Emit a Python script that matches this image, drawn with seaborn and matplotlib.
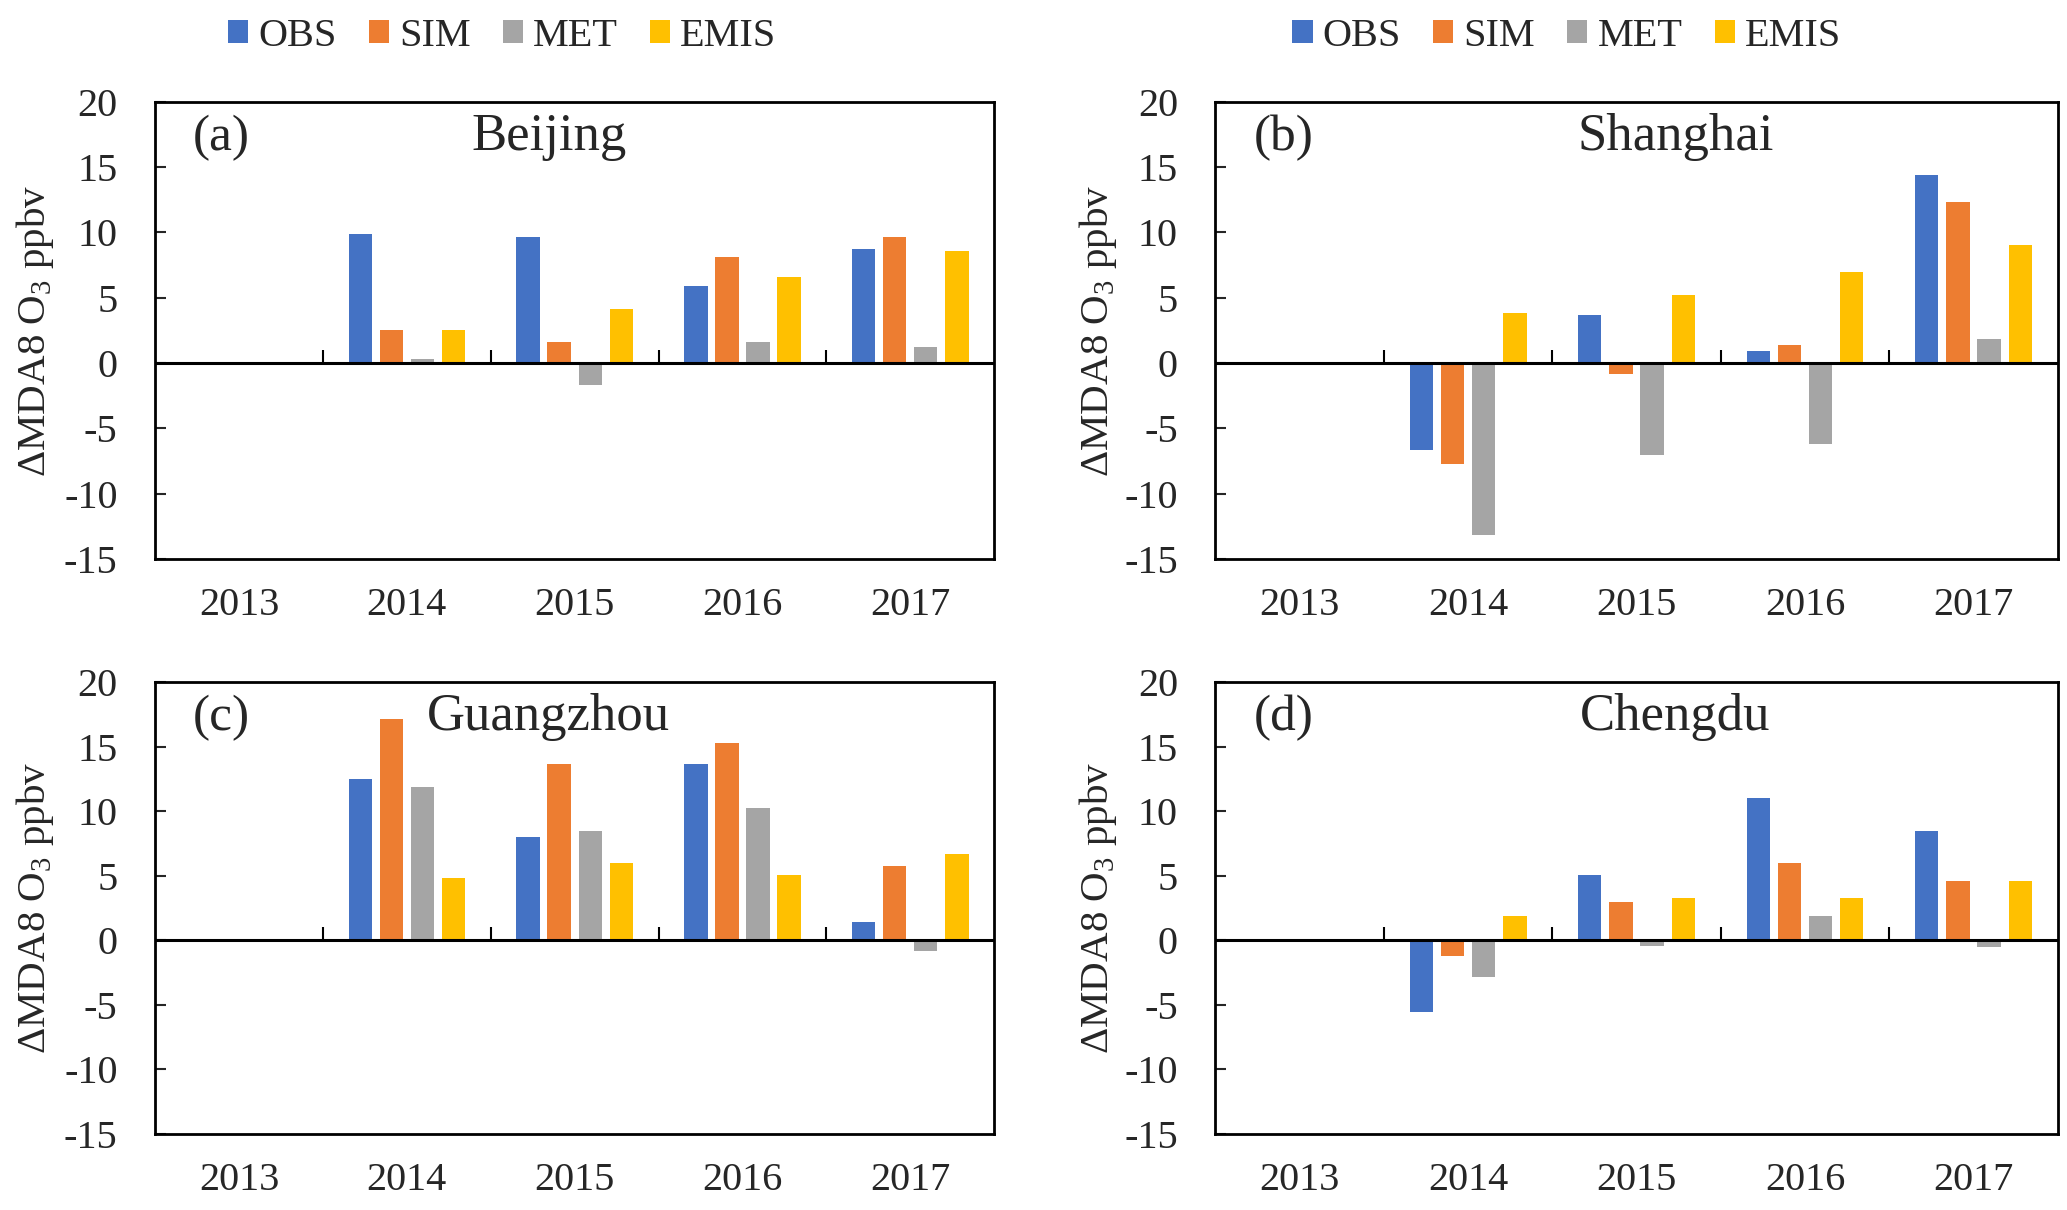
import numpy as np
import pandas as pd
import matplotlib
matplotlib.use('Agg')
import matplotlib.pyplot as plt
from matplotlib.patches import Patch
import seaborn as sns

years = ['2013', '2014', '2015', '2016', '2017']
series = ['OBS', 'SIM', 'MET', 'EMIS']
colors = ['#4472C4', '#ED7D31', '#A5A5A5', '#FFC000']

cities = ['Beijing', 'Shanghai', 'Guangzhou', 'Chengdu']
panel_tags = ['(a)', '(b)', '(c)', '(d)']

# values per city, one list per series, 2013 is the base year
beijing_obs = [0, 9.9, 9.65, 5.9, 8.75]
beijing_sim = [0, 2.5, 1.6, 8.1, 9.65]
beijing_met = [0, 0.3, -1.7, 1.6, 1.2]
beijing_emis = [0, 2.5, 4.1, 6.55, 8.55]

shanghai_obs = [0, -6.65, 3.65, 0.95, 14.35]
shanghai_sim = [0, -7.75, -0.85, 1.4, 12.3]
shanghai_met = [0, -13.15, -7.05, -6.2, 1.85]
shanghai_emis = [0, 3.85, 5.2, 6.95, 9.0]

guangzhou_obs = [0, 12.55, 8.05, 13.7, 1.45]
guangzhou_sim = [0, 17.15, 13.7, 15.3, 5.75]
guangzhou_met = [0, 11.9, 8.5, 10.3, -0.8]
guangzhou_emis = [0, 4.85, 6.0, 5.1, 6.7]

chengdu_obs = [0, -5.55, 5.1, 11.0, 8.5]
chengdu_sim = [0, -1.25, 3.0, 6.0, 4.6]
chengdu_met = [0, -2.85, -0.4, 1.9, -0.55]
chengdu_emis = [0, 1.9, 3.25, 3.25, 4.6]

city_values = {
    'Beijing': [beijing_obs, beijing_sim, beijing_met, beijing_emis],
    'Shanghai': [shanghai_obs, shanghai_sim, shanghai_met, shanghai_emis],
    'Guangzhou': [guangzhou_obs, guangzhou_sim, guangzhou_met, guangzhou_emis],
    'Chengdu': [chengdu_obs, chengdu_sim, chengdu_met, chengdu_emis],
}

sns.set_style('white')
plt.rcParams['font.family'] = ['Liberation Serif', 'DejaVu Serif']
plt.rcParams['mathtext.fontset'] = 'custom'
plt.rcParams['mathtext.rm'] = 'Liberation Serif'
plt.rcParams['axes.unicode_minus'] = False

fig = plt.figure(figsize=(20.67, 12.10), dpi=100)
rects = [
    [0.075, 0.538, 0.406, 0.378],
    [0.588, 0.538, 0.4075, 0.378],
    [0.075, 0.063, 0.406, 0.373],
    [0.588, 0.063, 0.4075, 0.373],
]
title_x = [0.469, 0.546, 0.469, 0.546]
ylabel_x = [-0.118, -0.114, -0.118, -0.114]

for i, city in enumerate(cities):
    ax = fig.add_axes(rects[i])
    rows = []
    for s, vals in zip(series, city_values[city]):
        for y, v in zip(years, vals):
            rows.append({'year': y, 'series': s, 'value': v})
    df = pd.DataFrame(rows)

    sns.barplot(data=df, x='year', y='value', hue='series', order=years,
                hue_order=series, palette=colors, saturation=1, width=0.74,
                gap=0.25, errorbar=None, linewidth=0, legend=False, ax=ax)

    ax.set_xlim(-0.5, 4.5)
    ax.set_ylim(-15, 20)
    ax.set_yticks(np.arange(-15, 21, 5))
    ax.axhline(0, color='black', lw=2.2, zorder=5)
    # category separators on the zero line
    ax.vlines([0.5, 1.5, 2.5, 3.5], 0, 1.0, color='black', lw=1.5, zorder=5)

    for sp in ax.spines.values():
        sp.set_visible(True)
        sp.set_color('black')
        sp.set_linewidth(2.0)

    ax.tick_params(axis='x', length=0, pad=20, labelsize=29)
    ax.tick_params(axis='y', direction='in', length=8, width=1.5,
                   left=True, pad=27, labelsize=29)
    ax.set_xlabel('')
    ax.set_ylabel(r'$\Delta$MDA8 O$_\mathrm{3}$ ppbv', fontsize=29.5)
    ax.yaxis.set_label_coords(ylabel_x[i], 0.5)

    ax.text(0.045, 0.895, panel_tags[i], transform=ax.transAxes,
            fontsize=37, va='baseline', ha='left')
    ax.text(title_x[i], 0.895, city, transform=ax.transAxes,
            fontsize=38, va='baseline', ha='center')

handles = [Patch(facecolor=c, edgecolor='none', label=s) for s, c in zip(series, colors)]
for cx in [0.243, 0.758]:
    fig.legend(handles=handles, loc='center', bbox_to_anchor=(cx, 0.970),
               ncol=4, frameon=False, fontsize=29, handlelength=0.5,
               handleheight=0.5, handletextpad=0.25, columnspacing=0.8)

fig.savefig('out.png', dpi=100)
